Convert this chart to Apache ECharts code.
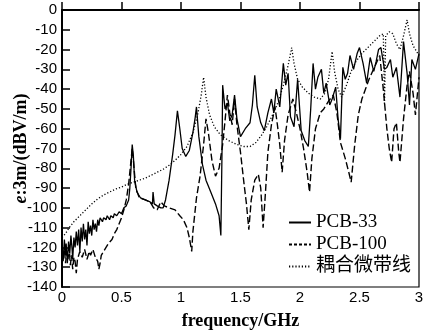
<!DOCTYPE html>
<html>
<head>
<meta charset="utf-8">
<script src="https://cdn.jsdelivr.net/npm/echarts@6/dist/echarts.min.js"></script>
<style>
	html, body { margin: 0; padding: 0; background: #fff; }
	#report_1 { width: 423px; height: 332px; }
</style>
</head>
<body>
<div id="report_1"></div>
<script>
var seriesNames = ['PCB-33', 'PCB-100', '耦合微带线'];
var xTicks = [0, 0.5, 1, 1.5, 2, 2.5, 3];
var yTicks = [0, -10, -20, -30, -40, -50, -60, -70, -80, -90, -100, -110, -120, -130, -140];

// [frequency GHz, e dBV/m]
var pcb33 = [
	[0,-120],[0.01,-127],[0.02,-116],[0.03,-124],[0.035,-118],[0.045,-128],[0.055,-117],[0.065,-123],
	[0.075,-114],[0.085,-121],[0.09,-126],[0.1,-115],[0.11,-120],[0.12,-112],[0.13,-119],[0.14,-111],
	[0.15,-122],[0.16,-110],[0.17,-117],[0.18,-108],[0.19,-116],[0.2,-111],[0.21,-119],[0.22,-107],
	[0.23,-113],[0.24,-109],[0.25,-114],[0.26,-106],[0.27,-111],[0.28,-108],[0.29,-112],[0.3,-106],
	[0.31,-109],[0.32,-105],[0.34,-107],[0.35,-105],[0.37,-106],[0.38,-104],[0.4,-106],[0.41,-104],
	[0.43,-105],[0.44,-103],[0.46,-104],[0.48,-102],[0.5,-103],[0.52,-100],[0.54,-99],[0.56,-96],
	[0.57,-90],[0.58,-80],[0.59,-68],[0.6,-74],[0.61,-86],[0.63,-92],[0.66,-95],[0.7,-96],[0.74,-97],
	[0.76,-98],[0.765,-92],[0.775,-98],[0.8,-99],[0.83,-100],[0.85,-100],[0.87,-96],[0.9,-86],[0.93,-73],
	[0.95,-63],[0.97,-51],[0.99,-60],[1.01,-70],[1.04,-74],[1.07,-71],[1.1,-62],[1.12,-54],[1.13,-49],
	[1.15,-64],[1.18,-78],[1.21,-86],[1.25,-92],[1.29,-98],[1.32,-104],[1.335,-114],[1.345,-70],[1.35,-38],
	[1.37,-50],[1.39,-47],[1.41,-56],[1.43,-53],[1.45,-43],[1.47,-55],[1.5,-64],[1.54,-60],[1.58,-57],
	[1.6,-48],[1.62,-33],[1.64,-49],[1.67,-57],[1.7,-61],[1.73,-52],[1.76,-45],[1.78,-52],[1.8,-40],
	[1.83,-49],[1.86,-27],[1.88,-38],[1.9,-32],[1.92,-54],[1.95,-59],[1.98,-35],[2.01,-61],[2.04,-66],
	[2.07,-69],[2.09,-50],[2.11,-27],[2.13,-40],[2.15,-34],[2.18,-30],[2.2,-42],[2.22,-37],[2.25,-48],
	[2.27,-45],[2.3,-39],[2.32,-55],[2.34,-65],[2.36,-29],[2.38,-35],[2.4,-32],[2.42,-23],[2.45,-30],
	[2.48,-22],[2.5,-19],[2.53,-27],[2.56,-37],[2.59,-24],[2.62,-31],[2.64,-26],[2.66,-20],[2.68,-19],
	[2.71,-30],[2.73,-29],[2.76,-25],[2.78,-34],[2.81,-29],[2.84,-44],[2.87,-16],[2.9,-32],[2.92,-48],
	[2.94,-25],[2.97,-30],[3.0,-22]
];

var pcb100 = [
	[0,-118],[0.01,-124],[0.02,-121],[0.03,-128],[0.04,-122],[0.05,-126],[0.06,-120],[0.07,-129],
	[0.08,-124],[0.09,-131],[0.1,-125],[0.11,-127],[0.12,-133],[0.13,-126],[0.15,-122],[0.17,-125],
	[0.19,-121],[0.21,-126],[0.23,-122],[0.24,-124],[0.26,-121],[0.28,-125],[0.3,-127],[0.31,-131],
	[0.32,-128],[0.33,-124],[0.35,-122],[0.37,-120],[0.39,-118],[0.42,-116],[0.44,-113],[0.46,-111],
	[0.48,-108],[0.5,-105],[0.52,-101],[0.54,-96],[0.56,-88],[0.575,-79],[0.59,-70],[0.6,-76],
	[0.62,-90],[0.65,-95],[0.7,-96],[0.74,-97],[0.77,-100],[0.8,-101],[0.83,-97],[0.86,-99],[0.9,-100],
	[0.95,-101],[0.99,-104],[1.02,-106],[1.05,-110],[1.07,-115],[1.09,-122],[1.1,-112],[1.13,-95],
	[1.16,-84],[1.19,-68],[1.21,-55],[1.23,-62],[1.26,-76],[1.29,-84],[1.32,-80],[1.35,-68],[1.37,-56],
	[1.39,-43],[1.41,-52],[1.43,-58],[1.45,-45],[1.47,-58],[1.5,-72],[1.53,-88],[1.55,-98],[1.57,-111],
	[1.59,-96],[1.62,-86],[1.65,-83],[1.67,-90],[1.69,-110],[1.71,-92],[1.73,-72],[1.76,-58],[1.79,-49],
	[1.81,-58],[1.83,-68],[1.85,-82],[1.87,-66],[1.9,-53],[1.94,-45],[1.97,-52],[2.0,-60],[2.03,-70],
	[2.06,-82],[2.08,-92],[2.1,-75],[2.13,-60],[2.17,-52],[2.2,-50],[2.24,-46],[2.28,-43],[2.31,-52],
	[2.34,-67],[2.38,-75],[2.41,-82],[2.43,-87],[2.46,-68],[2.49,-53],[2.52,-45],[2.55,-40],[2.58,-35],
	[2.61,-31],[2.64,-27],[2.67,-23],[2.7,-40],[2.73,-60],[2.75,-70],[2.77,-77],[2.79,-60],[2.81,-57],
	[2.83,-72],[2.84,-77],[2.87,-55],[2.9,-38],[2.92,-31],[2.95,-42],[2.97,-53],[3.0,-34]
];

var microstrip = [
	[0,-115],[0.03,-113],[0.06,-110],[0.1,-107],[0.15,-104],[0.2,-101],[0.25,-98],[0.3,-95.5],
	[0.35,-93.5],[0.4,-92],[0.45,-90.5],[0.5,-89.5],[0.55,-88],[0.6,-87],[0.65,-86],[0.7,-85],
	[0.75,-83.5],[0.8,-82],[0.85,-80.5],[0.9,-78.5],[0.95,-76],[1.0,-73],[1.05,-69],[1.1,-62],
	[1.14,-53],[1.17,-43],[1.19,-34],[1.21,-44],[1.24,-53],[1.28,-59],[1.33,-63],[1.4,-66],[1.47,-68],
	[1.53,-69],[1.58,-69],[1.63,-67],[1.68,-63],[1.72,-59],[1.77,-53],[1.82,-46],[1.86,-38],[1.9,-28],
	[1.93,-19],[1.95,-27],[1.98,-35],[2.02,-39],[2.07,-42],[2.12,-44],[2.17,-45],[2.21,-42],[2.24,-35],
	[2.27,-21],[2.29,-31],[2.32,-40],[2.35,-44],[2.39,-38],[2.43,-31],[2.47,-26],[2.52,-22],[2.57,-19],
	[2.62,-16],[2.67,-13],[2.7,-12],[2.71,-48],[2.72,-13],[2.75,-11],[2.78,-12],[2.81,-17],[2.84,-20],
	[2.87,-13],[2.9,-5],[2.92,-12],[2.95,-18],[2.98,-21],[3.0,-23]
];

function reportEmission(id) {
	var dom = document.getElementById(id);
	var myChart = echarts.init(dom, null, { renderer : 'canvas' });
	var serif = '"Liberation Serif", "Times New Roman", "Noto Sans CJK SC", serif';
	var option = {
		animation : false,
		backgroundColor : '#fff',
		grid : {
			left : 62,
			right : 4,
			top : 10,
			bottom : 45,
			containLabel : false,
			outerBoundsMode : 'none',
			show : true,
			borderColor : '#000',
			borderWidth : 1.2
		},
		legend : {
			orient : 'vertical',
			right : 12,
			top : 213,
			padding : 0,
			itemGap : 3,
			itemWidth : 22,
			itemHeight : 10,
			data : [
				{ name : seriesNames[0] },
				{ name : seriesNames[1], lineStyle : { type : [3, 2] } },
				{ name : seriesNames[2] }
			],
			itemStyle : { opacity : 0 },
			textStyle : {
				fontFamily : serif,
				fontSize : 19,
				color : '#000',
				lineHeight : 19
			}
		},
		xAxis : {
			type : 'value',
			min : xTicks[0],
			max : xTicks[xTicks.length - 1],
			interval : 0.5,
			name : 'frequency/GHz',
			nameLocation : 'middle',
			nameGap : 25,
			nameMoveOverlap : false,
			nameTextStyle : {
				fontFamily : serif,
				fontSize : 18,
				fontWeight : 'bold',
				color : '#000'
			},
			axisLine : { lineStyle : { color : '#000', width : 2 } },
			axisTick : { inside : true, length : 8, lineStyle : { color : '#000', width : 1.5 } },
			axisLabel : {
				color : '#000',
				fontFamily : '"Liberation Sans", Arial, sans-serif',
				fontSize : 15,
				margin : 3,
				showMaxLabel : true,
				showMinLabel : true
			},
			splitLine : { show : false }
		},
		yAxis : {
			type : 'value',
			min : yTicks[yTicks.length - 1],
			max : yTicks[0],
			interval : 10,
			name : '{i|e}:3m/(dBV/m)',
			nameLocation : 'middle',
			nameGap : 32,
			nameMoveOverlap : false,
			nameTextStyle : {
				fontFamily : serif,
				fontSize : 18,
				fontWeight : 'bold',
				color : '#000',
				rich : {
					i : {
						fontFamily : serif,
						fontSize : 18,
						fontWeight : 'bold',
						fontStyle : 'italic',
						color : '#000'
					}
				}
			},
			axisLine : { lineStyle : { color : '#000', width : 2 } },
			axisTick : { inside : true, length : 8, lineStyle : { color : '#000', width : 1.5 } },
			axisLabel : {
				color : '#000',
				fontFamily : '"Liberation Sans", Arial, sans-serif',
				fontSize : 15,
				margin : 5
			},
			splitLine : { show : false }
		},
		series : [ {
			name : seriesNames[0],
			type : 'line',
			symbol : 'none',
			data : pcb33,
			lineStyle : { color : '#000', width : 1.3 },
			itemStyle : { color : '#000' }
		}, {
			name : seriesNames[1],
			type : 'line',
			symbol : 'none',
			data : pcb100,
			lineStyle : { color : '#000', width : 1.4, type : [7, 3] },
			itemStyle : { color : '#000' }
		}, {
			name : seriesNames[2],
			type : 'line',
			symbol : 'none',
			data : microstrip,
			lineStyle : { color : '#000', width : 1.3, type : [1.2, 2] },
			itemStyle : { color : '#000' }
		} ]
	};
	myChart.setOption(option, true);
}

reportEmission('report_1');
</script>
</body>
</html>
